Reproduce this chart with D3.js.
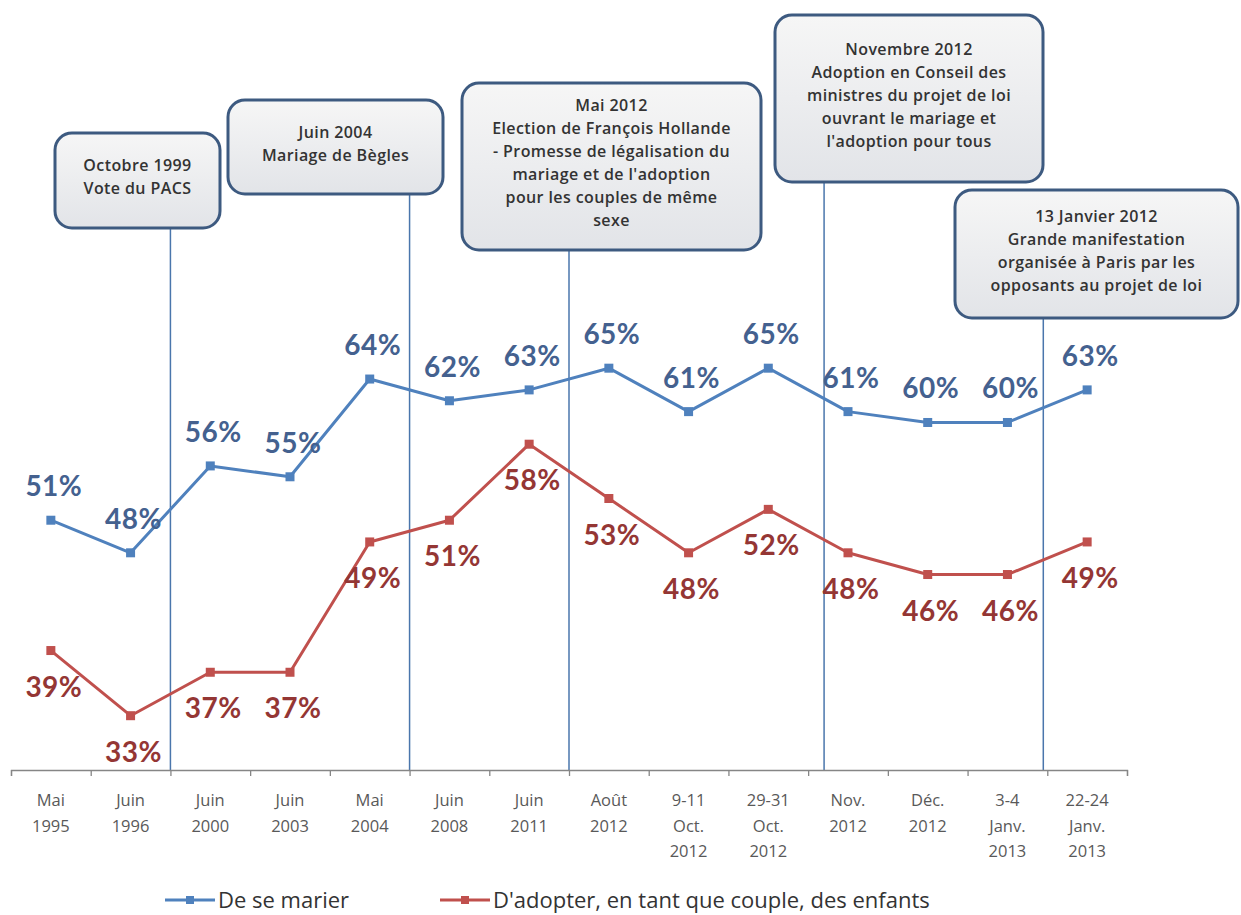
<!DOCTYPE html>
<html>
<head>
<meta charset="utf-8">
<script src="https://cdn.jsdelivr.net/npm/d3@7"></script>
<style>
  body { margin: 0; background: #fff; }
  svg { display: block; }
</style>
</head>
<body>
<svg id="chart" width="1241" height="915"></svg>
<script>
// categories (one array of lines per tick label)
const categories = [
  ["Mai", "1995"], ["Juin", "1996"], ["Juin", "2000"], ["Juin", "2003"],
  ["Mai", "2004"], ["Juin", "2008"], ["Juin", "2011"], ["Août", "2012"],
  ["9-11", "Oct.", "2012"], ["29-31", "Oct.", "2012"], ["Nov.", "2012"],
  ["Déc.", "2012"], ["3-4", "Janv.", "2013"], ["22-24", "Janv.", "2013"]
];
const marier  = [51, 48, 56, 55, 64, 62, 63, 65, 61, 65, 61, 60, 60, 63];
const adopter = [39, 33, 37, 37, 49, 51, 58, 53, 48, 52, 48, 46, 46, 49];

const seriesNames = ["De se marier", "D'adopter, en tant que couple, des enfants"];

// events: where they fall on the category axis (in category units)
const eventPos = [2, 5, 7, 10.2, 12.95];
const eventText = [
  ["Octobre 1999", "Vote du PACS"],
  ["Juin 2004", "Mariage de Bègles"],
  ["Mai 2012", "Election de François Hollande", "- Promesse de légalisation du", "mariage et de l'adoption", "pour les couples de même", "sexe"],
  ["Novembre 2012", "Adoption en Conseil des", "ministres du projet de loi", "ouvrant le mariage et", "l'adoption pour tous"],
  ["13 Janvier 2012", "Grande manifestation", "organisée à Paris par les", "opposants au projet de loi"]
];

// box layout (x, y, w, h)
const boxes = [
  {x: 55, y: 133, w: 165, h: 95},
  {x: 228, y: 100, w: 215, h: 94},
  {x: 462, y: 83, w: 299, h: 167},
  {x: 775, y: 15, w: 268, h: 167},
  {x: 955, y: 190, w: 283, h: 128}
];

const blue = "#4F81BD", red = "#C0504D";
const blueLabel = "#44618F", redLabel = "#943634";
const axisY = 770;

const svg = d3.select("#chart");

const edge = d3.scaleLinear().domain([0, categories.length]).range([11, 1127]);
const x = d3.scaleBand().domain(d3.range(categories.length)).range([11, 1127]);
const y = d3.scaleLinear().domain([28, 70]).range([axisY, axisY - 42 * 10.86]);

const defs = svg.append("defs");
const grad = defs.append("linearGradient").attr("id", "boxfill")
  .attr("x1", 0).attr("y1", 0).attr("x2", 0).attr("y2", 1);
grad.append("stop").attr("offset", "0%").attr("stop-color", "#f6f6f6");
grad.append("stop").attr("offset", "100%").attr("stop-color", "#e2e4e8");

// event lines
svg.append("g").selectAll("line")
  .data(eventPos)
  .join("line")
  .attr("x1", d => edge(d)).attr("x2", d => edge(d))
  .attr("y1", (d, i) => boxes[i].y + boxes[i].h)
  .attr("y2", axisY)
  .attr("stroke", "#4A76AC")
  .attr("stroke-width", 1.5);

// event boxes
const box = svg.append("g").selectAll("g")
  .data(eventText)
  .join("g");

box.append("rect")
  .attr("x", (d, i) => boxes[i].x).attr("y", (d, i) => boxes[i].y)
  .attr("width", (d, i) => boxes[i].w).attr("height", (d, i) => boxes[i].h)
  .attr("rx", 17)
  .attr("fill", "url(#boxfill)")
  .attr("stroke", "#3D5A80")
  .attr("stroke-width", 3);

box.each(function(lines, i) {
  const b = boxes[i];
  const lh = 23;
  const top = b.y + b.h / 2 - (lines.length - 1) * lh / 2 + 2;
  d3.select(this).append("text")
    .attr("text-anchor", "middle")
    .attr("font-family", "'Open Sans', sans-serif")
    .attr("font-size", 16)
    .attr("font-weight", 600)
    .attr("letter-spacing", 0.4)
    .attr("fill", "#333")
    .selectAll("tspan")
    .data(lines)
    .join("tspan")
    .attr("x", b.x + b.w / 2)
    .attr("y", (d, j) => top + j * lh)
    .text(d => d);
});

// axis
const axis = svg.append("g")
  .attr("transform", `translate(0,${axisY})`)
  .call(d3.axisBottom(edge).tickValues(d3.range(categories.length + 1)).tickSize(6).tickFormat(""));
axis.select(".domain").attr("stroke", "#868686").attr("stroke-width", 1.3);
axis.selectAll(".tick line").attr("stroke", "#868686").attr("stroke-width", 1.3);

svg.append("g").selectAll("text")
  .data(categories)
  .join("text")
  .attr("text-anchor", "middle")
  .attr("font-family", "'Open Sans', sans-serif")
  .attr("font-size", 16.5)
  .attr("fill", "#595959")
  .each(function(lines, i) {
    d3.select(this).selectAll("tspan")
      .data(lines)
      .join("tspan")
      .attr("x", x(i) + x.bandwidth() / 2)
      .attr("y", (d, j) => axisY + 36 + j * 25.5)
      .text(d => d);
  });

// series
const series = [
  {values: marier, color: blue, label: blueLabel, dy: -24},
  {values: adopter, color: red, label: redLabel, dy: 46}
];
const line = d3.line()
  .x((d, i) => x(i) + x.bandwidth() / 2)
  .y(d => y(d));

series.forEach(s => {
  const g = svg.append("g");
  g.append("path")
    .datum(s.values)
    .attr("d", line)
    .attr("fill", "none")
    .attr("stroke", s.color)
    .attr("stroke-width", 3)
    .attr("stroke-linejoin", "round");
  g.selectAll("rect")
    .data(s.values)
    .join("rect")
    .attr("x", (d, i) => x(i) + x.bandwidth() / 2 - 4.5)
    .attr("y", d => y(d) - 4.5)
    .attr("width", 9).attr("height", 9)
    .attr("fill", s.color);
  g.selectAll("text")
    .data(s.values)
    .join("text")
    .attr("x", (d, i) => x(i) + x.bandwidth() / 2 + 3)
    .attr("y", d => y(d) + s.dy)
    .attr("text-anchor", "middle")
    .attr("font-family", "Lato, 'Open Sans', sans-serif")
    .attr("font-weight", "bold")
    .attr("font-size", 28)
    .attr("letter-spacing", 0.5)
    .attr("fill", s.label)
    .text(d => d + "%");
});

// legend
const legend = svg.append("g").selectAll("g")
  .data(seriesNames)
  .join("g")
  .attr("transform", (d, i) => `translate(${i ? 440 : 165},900)`);
legend.append("line")
  .attr("x1", 0).attr("x2", 50).attr("y1", 0).attr("y2", 0)
  .attr("stroke", (d, i) => i ? red : blue)
  .attr("stroke-width", 3);
legend.append("rect")
  .attr("x", 21).attr("y", -4).attr("width", 8).attr("height", 8)
  .attr("fill", (d, i) => i ? red : blue);
legend.append("text")
  .attr("x", 53).attr("y", 8)
  .attr("font-family", "'Open Sans', sans-serif")
  .attr("font-size", 22)
  .attr("fill", "#333")
  .text(d => d);
</script>
</body>
</html>
